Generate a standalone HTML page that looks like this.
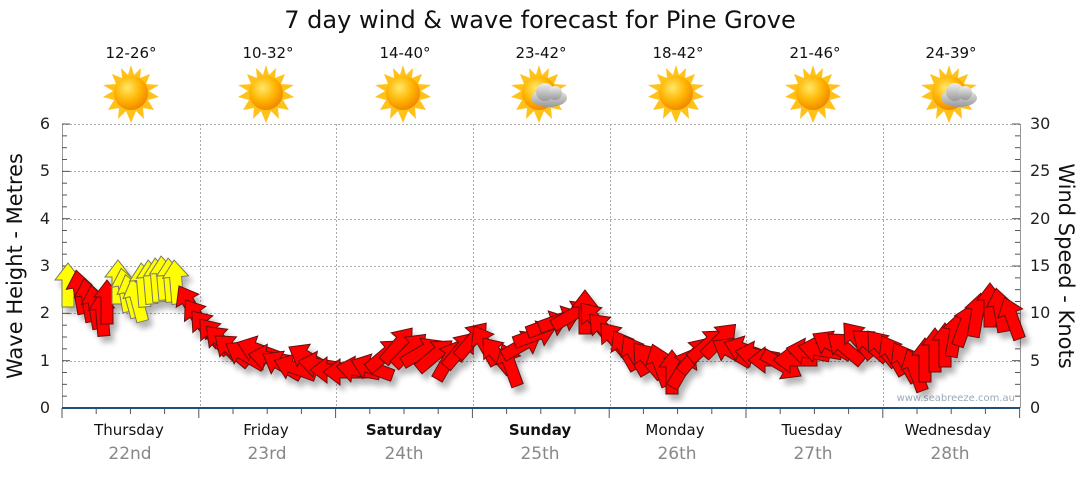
<!DOCTYPE html>
<html><head><meta charset="utf-8"><style>
body{margin:0;background:#fff;font-family:"DejaVu Sans","Liberation Sans",sans-serif}
</style></head><body>
<svg width="1080" height="475" xmlns="http://www.w3.org/2000/svg" font-family="DejaVu Sans, Liberation Sans, sans-serif">
<defs>
<radialGradient id="sg" cx="40%" cy="35%" r="65%"><stop offset="0" stop-color="#ffe866"/><stop offset="0.6" stop-color="#ffb300"/><stop offset="1" stop-color="#f08a00"/></radialGradient>
<linearGradient id="cg" x1="0" y1="0" x2="0" y2="1"><stop offset="0" stop-color="#eee"/><stop offset="1" stop-color="#999"/></linearGradient>
<filter id="sh" x="-50%" y="-50%" width="200%" height="200%"><feGaussianBlur in="SourceAlpha" stdDeviation="3"/><feOffset dx="4" dy="6"/><feComponentTransfer><feFuncA type="linear" slope="0.3"/></feComponentTransfer><feMerge><feMergeNode/><feMergeNode in="SourceGraphic"/></feMerge></filter>
<g id="sun"><polygon points="0,-28 3,-18 10,-25 9,-15 19,-19 15,-9 28,-8 18,-2 28,4 17,7 23,17 12,15 13,26 5,18 0,30 -5,18 -13,26 -12,15 -23,17 -17,7 -28,4 -18,-2 -28,-8 -15,-9 -19,-19 -9,-15 -10,-25 -3,-18" fill="#ffc21a"/><circle r="17" fill="url(#sg)"/></g>
<g id="cloud"><ellipse cx="8" cy="10" rx="18" ry="9" fill="url(#cg)"/><circle cx="4" cy="4" r="9" fill="url(#cg)"/><circle cx="14" cy="5" r="7" fill="url(#cg)"/></g>
</defs>
<text x="540" y="28" font-size="24" text-anchor="middle" fill="#111">7 day wind &amp; wave forecast for Pine Grove</text>
<g font-size="15" text-anchor="middle" fill="#111">
<text x="131" y="58">12-26°</text><text x="268" y="58">10-32°</text><text x="405" y="58">14-40°</text><text x="541" y="58">23-42°</text><text x="678" y="58">18-42°</text><text x="815" y="58">21-46°</text><text x="951" y="58">24-39°</text>
</g>
<use href="#sun" x="131" y="93"/><use href="#sun" x="266" y="93"/><use href="#sun" x="403" y="93"/><use href="#sun" x="539" y="93"/><use href="#cloud" x="541" y="88"/><use href="#sun" x="676" y="93"/><use href="#sun" x="813" y="93"/><use href="#sun" x="949" y="93"/><use href="#cloud" x="951" y="88"/>
<g stroke="#aaa" stroke-dasharray="2,2" stroke-width="1">
<line x1="62" x2="1020" y1="124.5" y2="124.5"/><line x1="62" x2="1020" y1="171.5" y2="171.5"/><line x1="62" x2="1020" y1="219.5" y2="219.5"/><line x1="62" x2="1020" y1="266.5" y2="266.5"/><line x1="62" x2="1020" y1="313.5" y2="313.5"/><line x1="62" x2="1020" y1="361.5" y2="361.5"/>
<line x1="200.5" x2="200.5" y1="124" y2="408"/><line x1="336.5" x2="336.5" y1="124" y2="408"/><line x1="473.5" x2="473.5" y1="124" y2="408"/><line x1="610.5" x2="610.5" y1="124" y2="408"/><line x1="746.5" x2="746.5" y1="124" y2="408"/><line x1="883.5" x2="883.5" y1="124" y2="408"/>
</g>
<line x1="62.5" x2="62.5" y1="124" y2="408" stroke="#999"/>
<line x1="1020.5" x2="1020.5" y1="124" y2="408" stroke="#999"/>
<g id="ticks" stroke="#555"></g>
<line x1="62" x2="1020" y1="408" y2="408" stroke="#1f4e79" stroke-width="2"/>
<g font-size="16" fill="#222" text-anchor="end">
<text x="50" y="413">0</text><text x="50" y="366">1</text><text x="50" y="318">2</text><text x="50" y="271">3</text><text x="50" y="224">4</text><text x="50" y="176">5</text><text x="50" y="129">6</text>
</g>
<g font-size="16" fill="#222" text-anchor="start">
<text x="1030" y="413">0</text><text x="1030" y="366">5</text><text x="1030" y="318">10</text><text x="1030" y="271">15</text><text x="1030" y="224">20</text><text x="1030" y="176">25</text><text x="1030" y="129">30</text>
</g>
<text transform="translate(22,266) rotate(-90)" font-size="21" text-anchor="middle" fill="#111">Wave Height - Metres</text>
<text transform="translate(1059,266) rotate(90)" font-size="21" text-anchor="middle" fill="#111">Wind Speed - Knots</text>
<text x="1015" y="401" font-size="10" fill="#9ab" text-anchor="end">www.seabreeze.com.au</text>
<g font-size="15" text-anchor="middle" fill="#111">
<text x="129" y="435">Thursday</text><text x="266" y="435">Friday</text><text x="404" y="435" font-weight="bold">Saturday</text><text x="540" y="435" font-weight="bold">Sunday</text><text x="675" y="435">Monday</text><text x="812" y="435">Tuesday</text><text x="948" y="435">Wednesday</text>
</g>
<g font-size="17" text-anchor="middle" fill="#888">
<text x="130" y="459">22nd</text><text x="267" y="459">23rd</text><text x="404" y="459">24th</text><text x="540" y="459">25th</text><text x="677" y="459">26th</text><text x="813" y="459">27th</text><text x="950" y="459">28th</text>
</g>
<g id="arrows" filter="url(#sh)"></g>
<script>
var t=document.getElementById('ticks'),ns='http://www.w3.org/2000/svg';
function L(a,b,c,d){var l=document.createElementNS(ns,'line');l.setAttribute('x1',a);l.setAttribute('y1',b);l.setAttribute('x2',c);l.setAttribute('y2',d);t.appendChild(l);}
for(var i=0;i<=24;i++){var y=408-i*47.33/4;L(62,y,i%4?67:70,y);L(1020,y,i%4?1015:1012,y);}
for(var i=0;i<=28;i++){var x=62+i*136.8/4;L(x,408,x,i%4?414:418);}
var Y='#ffff00',R='#ff0000';
var d=[[68,285,0,Y],[80,292,-10,R],[88,300,-10,R],[95,307,-10,R],[102,314,-5,R],[107,302,0,R],
[118,282,0,Y],[125,290,-10,Y],[131,296,-15,Y],[137,300,-15,Y],[143,285,-5,Y],[150,282,-5,Y],[157,280,-5,Y],[163,278,-5,Y],[170,280,-5,Y],[176,282,-5,Y],
[190,305,-30],[198,318,-35],[206,328,-40],[214,336,-40],[222,342,-45],[232,350,-50],[245,355,-60],[258,350,-70],[270,358,-80],[282,365,-60],[295,368,-70],[308,358,-60],[320,365,-80],[332,370,-90],[345,372,-90],[358,370,-80],[372,368,-70],[385,355,50],[398,345,40],[410,350,45],[422,352,60],[435,355,50],[448,360,30],[460,350,40],[472,340,40],[485,345,-30],[497,355,-40],[510,365,-20],[522,345,60],[535,335,70],[548,325,70],[560,320,70],[572,315,60],[585,312,0],[595,320,-40],[605,330,-45],[615,340,-40],[625,350,-30],[635,355,-30],[648,360,-40],[660,365,-20],[672,372,0],[683,368,30],[695,355,40],[707,345,50],[720,340,45],[732,352,-60],[745,350,-70],[757,355,-80],[770,360,-90],[782,365,120],[795,360,-90],[808,352,-80],[820,350,-80],[832,345,-60],[845,348,-50],[858,340,-40],[870,345,-50],[882,348,-40],[893,355,-30],[905,362,-30],[915,370,-20],[925,360,0],[935,350,0],[945,345,0],[955,335,10],[965,325,20],[977,315,10],[990,305,0],[1000,310,-10],[1012,318,-20]];
var g=document.getElementById('arrows');
d.forEach(function(a){var p=document.createElementNS(ns,'polygon');var c=a[3]||R;
p.setAttribute('points','0,-22 13,-5 6,-5 6,22 -6,22 -6,-5 -13,-5');
p.setAttribute('fill',c);p.setAttribute('stroke',c==Y?'#776':'#611');p.setAttribute('stroke-width','1');
p.setAttribute('transform','translate('+a[0]+','+a[1]+') rotate('+a[2]+')');g.appendChild(p);});
</script>
</svg>
</body></html>
